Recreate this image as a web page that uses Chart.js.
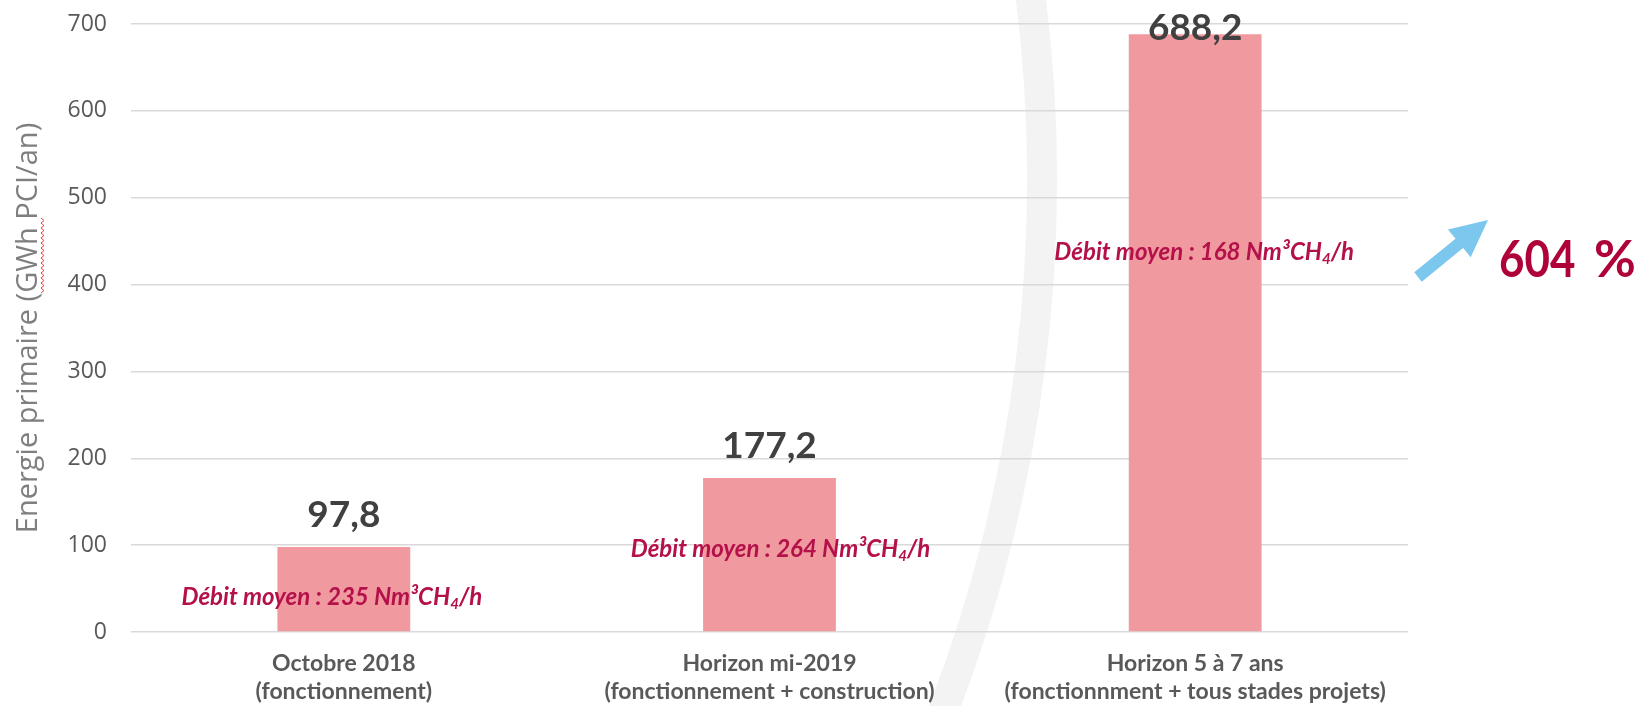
<!DOCTYPE html>
<html>
<head>
<meta charset="utf-8">
<script src="https://cdn.jsdelivr.net/npm/chart.js@4.4.1/dist/chart.umd.min.js"></script>
<style>
html, body { margin: 0; padding: 0; background: #fff; }
</style>
</head>
<body>
<canvas id="chart" width="1648" height="706"></canvas>
<script>
const categories = [
    ['Octobre 2018', '(fonctionnement)'],
    ['Horizon mi-2019', '(fonctionnement + construction)'],
    ['Horizon 5 à 7 ans', '(fonctionnment + tous stades projets)']
];
const energyValues = [97.8, 177.2, 688.2];
const debitValues = [235, 264, 168];
const yTicks = [0, 100, 200, 300, 400, 500, 600, 700];
const growthLabel = ['604', '%'];

// where each "Débit moyen" note sits: baseline in axis units, px shift from bar centre
const noteLevels = [31, 86, 428];
const noteShift = [-12, 11, 9];

// ================= Helpers =================
function fmt(v) {
    return v.toFixed(1).replace('.', ',');
}

function drawNote(ctx, debit, cx, baseY) {
    const big = 'italic bold 24px Lato';
    const small = 'italic bold 15px Lato';
    const parts = [
        { t: 'Débit moyen : ' + debit + ' Nm³CH', f: big, dy: 0 },
        { t: '4', f: small, dy: 4 },
        { t: '/h', f: big, dy: 0 }
    ];
    let total = 0;
    parts.forEach(p => { ctx.font = p.f; p.w = ctx.measureText(p.t).width; total += p.w; });
    let x = cx - total / 2;
    ctx.fillStyle = '#B4104A';
    ctx.textAlign = 'left';
    ctx.textBaseline = 'alphabetic';
    parts.forEach(p => {
        ctx.font = p.f;
        ctx.fillText(p.t, x, baseY + p.dy);
        x += p.w;
    });
}

// ================= Plugins =================
const backdrop = {
    id: 'backdrop',
    beforeDraw(chart) {
        const ctx = chart.ctx;
        ctx.save();
        ctx.strokeStyle = '#f3f3f3';
        ctx.lineWidth = 30;
        ctx.beginPath();
        ctx.arc(-433, 180, 1475, -0.2, 0.45);
        ctx.stroke();
        ctx.restore();
    }
};

const barLabels = {
    id: 'barLabels',
    afterDatasetsDraw(chart) {
        const ctx = chart.ctx;
        const meta = chart.getDatasetMeta(0);
        const yScale = chart.scales.y;
        ctx.save();
        meta.data.forEach((bar, i) => {
            ctx.font = 'bold 37px Lato';
            ctx.fillStyle = '#404040';
            ctx.textAlign = 'center';
            ctx.textBaseline = 'alphabetic';
            ctx.fillText(fmt(energyValues[i]), bar.x, Math.max(bar.y - 20, 40));
            drawNote(ctx, debitValues[i], bar.x + noteShift[i], yScale.getPixelForValue(noteLevels[i]));
        });
        ctx.restore();
    }
};

const extras = {
    id: 'extras',
    afterDraw(chart) {
        const ctx = chart.ctx;
        const r = chart.chartArea.right;
        ctx.save();

        // blue arrow
        const tail = { x: r + 10, y: 277 }, tip = { x: r + 80, y: 220 };
        const dx = tip.x - tail.x, dy = tip.y - tail.y;
        const len = Math.hypot(dx, dy);
        const ux = dx / len, uy = dy / len, nx = -uy, ny = ux;
        const headLen = 37, shaft = 6, head = 18;
        const bx = tip.x - ux * headLen, by = tip.y - uy * headLen;
        ctx.fillStyle = '#7CC7EE';
        ctx.beginPath();
        ctx.moveTo(tail.x + nx * shaft, tail.y + ny * shaft);
        ctx.lineTo(bx + nx * shaft, by + ny * shaft);
        ctx.lineTo(bx + nx * head, by + ny * head);
        ctx.lineTo(tip.x, tip.y);
        ctx.lineTo(bx - nx * head, by - ny * head);
        ctx.lineTo(bx - nx * shaft, by - ny * shaft);
        ctx.lineTo(tail.x - nx * shaft, tail.y - ny * shaft);
        ctx.closePath();
        ctx.fill();

        // growth label
        ctx.fillStyle = '#AE0239';
        ctx.font = 'bold 51px Lato';
        ctx.textAlign = 'left';
        ctx.textBaseline = 'alphabetic';
        ctx.save();
        ctx.translate(r + 91, 277);
        ctx.scale(0.86, 1);
        ctx.fillText(growthLabel[0], 0, 0);
        ctx.restore();
        ctx.fillText(growthLabel[1], r + 186, 277);

        // spell-check squiggle under "GWh"
        ctx.strokeStyle = '#e8423f';
        ctx.lineWidth = 1;
        ctx.beginPath();
        for (let y = 293, k = 0; y >= 218; y -= 2.5, k++) {
            const x = k % 2 ? 44 : 41;
            if (k === 0) ctx.moveTo(x, y); else ctx.lineTo(x, y);
        }
        ctx.stroke();

        ctx.restore();
    }
};

// ================= Chart =================
new Chart(document.getElementById('chart'), {
    type: 'bar',
    data: {
        labels: categories,
        datasets: [{
            data: energyValues,
            backgroundColor: '#F0999F',
            barPercentage: 0.312,
            categoryPercentage: 1
        }]
    },
    options: {
        responsive: false,
        animation: false,
        devicePixelRatio: 1,
        layout: { padding: { top: 24, right: 240, left: 0, bottom: 0 } },
        plugins: { legend: { display: false }, tooltip: { enabled: false } },
        scales: {
            x: {
                grid: { display: false, drawTicks: false },
                border: { display: false },
                ticks: {
                    font: { family: 'Lato', size: 23, weight: 'bold', lineHeight: '28px' },
                    color: '#595959',
                    padding: 18,
                    maxRotation: 0,
                    autoSkip: false
                },
                afterFit: s => { s.height = 74; }
            },
            y: {
                min: 0,
                max: 700,
                afterBuildTicks: s => { s.ticks = yTicks.map(v => ({ value: v })); },
                ticks: { font: { family: 'Open Sans', size: 23 }, color: '#595959', padding: 24 },
                grid: { color: '#d9d9d9', lineWidth: 1.5, drawTicks: false },
                border: { display: false },
                title: {
                    display: true,
                    text: 'Energie primaire (GWh PCI/an)',
                    font: { family: 'Open Sans', size: 29 },
                    color: '#7f7f7f',
                    padding: { top: 11, bottom: 0 }
                },
                afterFit: s => { s.width = 131; s.paddingTop = 0; s.paddingBottom = 0; }
            }
        }
    },
    plugins: [backdrop, barLabels, extras]
});
</script>
</body>
</html>
